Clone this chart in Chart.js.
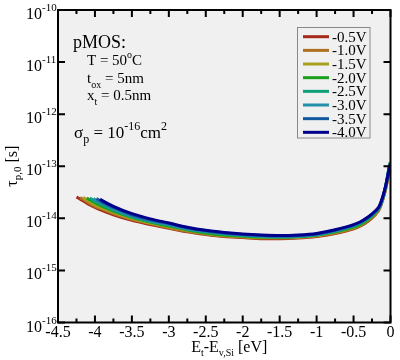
<!DOCTYPE html>
<html><head><meta charset="utf-8">
<script src="https://cdn.jsdelivr.net/npm/chart.js@4/dist/chart.umd.min.js"></script>
<style>html,body{margin:0;padding:0;background:#fff}#wrap{width:400px;height:360px;position:relative}canvas{display:block}</style>
</head><body><div id="wrap"><canvas id="c" width="400" height="360"></canvas></div>
<script>
// ---- tick labels / axes ----
const xTickValues = [-4.5, -4, -3.5, -3, -2.5, -2, -1.5, -1, -0.5, 0];
const xTickLabels = ['-4.5', '-4', '-3.5', '-3', '-2.5', '-2', '-1.5', '-1', '-0.5', '0'];
const xMinorTickValues = [-4.25, -3.75, -3.25, -2.75, -2.25, -1.75, -1.25, -0.75, -0.25];
const yTickValues = [1e-16, 1e-15, 1e-14, 1e-13, 1e-12, 1e-11, 1e-10];
const yTickExponents = ['-16', '-15', '-14', '-13', '-12', '-11', '-10'];

// ---- series ----
const seriesLabels = ['-0.5V', '-1.0V', '-1.5V', '-2.0V', '-2.5V', '-3.0V', '-3.5V', '-4.0V'];
const seriesColors = ['#a62a1a', '#b07222', '#a9a11e', '#1aa01a', '#10a07a', '#2390aa', '#1258a0', '#00008c'];

// shared energy grid (eV) after each curve's starting segment
const energyGrid = [-3.9, -3.75, -3.5, -3.25, -3, -2.75, -2.5, -2.25, -2, -1.75, -1.5, -1.25, -1, -0.75, -0.5, -0.4, -0.3, -0.2, -0.15, -0.1, -0.06, -0.03, -0.01, 0];

const leadE_05 = [-4.25, -4.2, -4.1, -4.0];
const leadTau_05 = [2.57e-14, 2.34e-14, 1.91e-14, 1.62e-14];
const tau_05 = [1.41e-14, 1.17e-14, 9.12e-15, 7.59e-15, 6.46e-15, 5.50e-15, 4.90e-15, 4.47e-15, 4.27e-15, 4.07e-15, 4.07e-15, 4.17e-15, 4.47e-15, 5.13e-15, 6.31e-15, 7.24e-15, 8.91e-15, 1.20e-14, 1.51e-14, 2.40e-14, 3.98e-14, 6.61e-14, 9.33e-14, 1.10e-13];

const leadE_10 = [-4.2, -4.1, -4.0];
const leadTau_10 = [2.51e-14, 2.04e-14, 1.70e-14];
const tau_10 = [1.51e-14, 1.23e-14, 9.55e-15, 7.94e-15, 6.61e-15, 5.62e-15, 5.01e-15, 4.57e-15, 4.37e-15, 4.17e-15, 4.17e-15, 4.27e-15, 4.57e-15, 5.25e-15, 6.46e-15, 7.41e-15, 9.12e-15, 1.23e-14, 1.55e-14, 2.45e-14, 4.07e-14, 6.76e-14, 9.55e-14, 1.10e-13];

const leadE_15 = [-4.16, -4.1, -4.0];
const leadTau_15 = [2.51e-14, 2.24e-14, 1.82e-14];
const tau_15 = [1.58e-14, 1.32e-14, 1.00e-14, 8.13e-15, 6.92e-15, 5.89e-15, 5.13e-15, 4.68e-15, 4.47e-15, 4.27e-15, 4.27e-15, 4.37e-15, 4.68e-15, 5.37e-15, 6.61e-15, 7.59e-15, 9.33e-15, 1.26e-14, 1.58e-14, 2.51e-14, 4.17e-14, 6.92e-14, 9.77e-14, 1.10e-13];

const leadE_20 = [-4.11, -4.0];
const leadTau_20 = [2.45e-14, 2.00e-14];
const tau_20 = [1.70e-14, 1.38e-14, 1.05e-14, 8.51e-15, 7.08e-15, 6.03e-15, 5.25e-15, 4.79e-15, 4.57e-15, 4.37e-15, 4.37e-15, 4.47e-15, 4.79e-15, 5.50e-15, 6.76e-15, 7.76e-15, 9.55e-15, 1.29e-14, 1.62e-14, 2.57e-14, 4.37e-14, 7.41e-14, 1.05e-13, 1.20e-13];

const leadE_25 = [-4.07, -4.0];
const leadTau_25 = [2.45e-14, 2.14e-14];
const tau_25 = [1.82e-14, 1.45e-14, 1.07e-14, 8.71e-15, 7.41e-15, 6.17e-15, 5.50e-15, 5.01e-15, 4.68e-15, 4.47e-15, 4.37e-15, 4.47e-15, 4.79e-15, 5.62e-15, 7.08e-15, 8.13e-15, 1.00e-14, 1.32e-14, 1.62e-14, 2.57e-14, 4.57e-14, 7.94e-14, 1.12e-13, 1.20e-13];

const leadE_30 = [-4.02, -4.0];
const leadTau_30 = [2.40e-14, 2.29e-14];
const tau_30 = [1.95e-14, 1.51e-14, 1.12e-14, 9.12e-15, 7.59e-15, 6.31e-15, 5.62e-15, 5.13e-15, 4.79e-15, 4.57e-15, 4.47e-15, 4.57e-15, 4.90e-15, 5.75e-15, 7.24e-15, 8.32e-15, 1.02e-14, 1.35e-14, 1.66e-14, 2.63e-14, 4.47e-14, 7.59e-14, 1.07e-13, 1.10e-13];

const leadE_35 = [-3.98];
const leadTau_35 = [2.40e-14];
const tau_35 = [2.04e-14, 1.62e-14, 1.17e-14, 9.33e-15, 7.94e-15, 6.61e-15, 5.75e-15, 5.25e-15, 4.90e-15, 4.68e-15, 4.57e-15, 4.68e-15, 5.01e-15, 5.89e-15, 7.41e-15, 8.51e-15, 1.05e-14, 1.38e-14, 1.70e-14, 2.69e-14, 4.47e-14, 7.41e-14, 1.05e-13, 1.10e-13];

const leadE_40 = [-3.93];
const leadTau_40 = [2.34e-14];
const tau_40 = [2.19e-14, 1.70e-14, 1.23e-14, 9.77e-15, 8.13e-15, 6.76e-15, 5.89e-15, 5.37e-15, 5.01e-15, 4.79e-15, 4.68e-15, 4.79e-15, 5.13e-15, 6.03e-15, 7.59e-15, 8.71e-15, 1.07e-14, 1.41e-14, 1.74e-14, 2.75e-14, 4.57e-14, 7.41e-14, 1.02e-13, 1.10e-13];

const seriesLeadE = [leadE_05, leadE_10, leadE_15, leadE_20, leadE_25, leadE_30, leadE_35, leadE_40];
const seriesLeadTau = [leadTau_05, leadTau_10, leadTau_15, leadTau_20, leadTau_25, leadTau_30, leadTau_35, leadTau_40];
const seriesTau = [tau_05, tau_10, tau_15, tau_20, tau_25, tau_30, tau_35, tau_40];

function buildPoints(i) {
  const pts = seriesLeadE[i].map((e, j) => ({x: e, y: seriesLeadTau[i][j]}));
  energyGrid.forEach((e, j) => pts.push({x: e, y: seriesTau[i][j]}));
  return pts;
}

const datasets = seriesLabels.map((lab, i) => ({
  label: lab,
  data: buildPoints(i),
  borderColor: seriesColors[i],
  backgroundColor: seriesColors[i],
  borderWidth: 3,
  pointRadius: 0,
  fill: false,
  cubicInterpolationMode: 'monotone',
  order: seriesLabels.length - i
}));

const SERIF = '"Liberation Serif", "DejaVu Serif", serif';
function fnt(s) { return s + 'px ' + SERIF; }

// rich text: parts = [[text, size, dy]]
function richWidth(ctx, parts) {
  let w = 0;
  for (const p of parts) { ctx.font = fnt(p[1]); w += ctx.measureText(p[0]).width; }
  return w;
}
function drawRich(ctx, x, y, parts, align) {
  let w = richWidth(ctx, parts);
  let cx = x;
  if (align === 'center') cx = x - w / 2;
  else if (align === 'right') cx = x - w;
  ctx.textAlign = 'left';
  ctx.textBaseline = 'alphabetic';
  for (const p of parts) {
    ctx.font = fnt(p[1]);
    ctx.fillText(p[0], cx, y + (p[2] || 0));
    cx += ctx.measureText(p[0]).width;
  }
}

const decor = {
  id: 'decor',
  beforeDraw(chart) {
    const {ctx, chartArea: a} = chart;
    ctx.save();
    ctx.fillStyle = '#ffffff';
    ctx.fillRect(0, 0, chart.width, chart.height);
    ctx.fillStyle = '#f0f0f0';
    ctx.fillRect(a.left, a.top, a.right - a.left, a.bottom - a.top);
    ctx.restore();
  },
  afterDatasetsDraw(chart) {
    const {ctx, chartArea: a, scales} = chart;
    const xs = scales.x, ys = scales.y;
    ctx.save();
    ctx.strokeStyle = '#000';
    ctx.fillStyle = '#000';
    // ticks
    ctx.lineWidth = 2;
    ctx.beginPath();
    xTickValues.forEach(v => {
      const px = xs.getPixelForValue(v);
      ctx.moveTo(px, a.bottom); ctx.lineTo(px, a.bottom - 7);
      ctx.moveTo(px, a.top); ctx.lineTo(px, a.top + 7);
    });
    xMinorTickValues.forEach(v => {
      const px = xs.getPixelForValue(v);
      ctx.moveTo(px, a.bottom); ctx.lineTo(px, a.bottom - 4);
      ctx.moveTo(px, a.top); ctx.lineTo(px, a.top + 4);
    });
    yTickValues.forEach(v => {
      const py = ys.getPixelForValue(v);
      ctx.moveTo(a.left, py); ctx.lineTo(a.left + 7, py);
      ctx.moveTo(a.right, py); ctx.lineTo(a.right - 7, py);
    });
    ctx.stroke();
    // frame
    ctx.lineWidth = 2;
    ctx.strokeRect(a.left, a.top, a.right - a.left, a.bottom - a.top);

    // x tick labels
    ctx.font = fnt(16);
    ctx.textAlign = 'center';
    ctx.textBaseline = 'alphabetic';
    xTickValues.forEach((v, i) => {
      ctx.fillText(xTickLabels[i], xs.getPixelForValue(v), 337);
    });
    // y tick labels
    yTickValues.forEach((v, i) => {
      const py = ys.getPixelForValue(v);
      drawRich(ctx, 26, py + 9, [['10', 16, 0], [yTickExponents[i], 11, -8]], 'left');
    });
    // x title
    drawRich(ctx, (a.left + a.right) / 2 + 5, 352, [['E', 16, 0], ['t', 10, 4], ['-E', 16, 0], ['v,Si', 10, 4], [' [eV]', 16, 0]], 'center');
    // y title (rotated)
    ctx.save();
    ctx.translate(6, (a.top + a.bottom) / 2);
    ctx.rotate(-Math.PI / 2);
    drawRich(ctx, 0, 11, [['\u03C4', 16, 0], ['p,0', 11, 4], [' [s]', 16, 0]], 'center');
    ctx.restore();

    // annotations
    drawRich(ctx, 73, 48, [['pMOS:', 18, 0]], 'left');
    drawRich(ctx, 87, 65, [['T = 50', 15, 0], ['o', 10, -7], ['C', 15, 0]], 'left');
    drawRich(ctx, 87, 83, [['t', 15, 0], ['ox', 10, 5], [' = 5nm', 15, 0]], 'left');
    drawRich(ctx, 87, 100, [['x', 15, 0], ['t', 10, 5], [' = 0.5nm', 15, 0]], 'left');
    drawRich(ctx, 74, 138, [['\u03C3', 17, 0], ['p', 12, 5], [' = 10', 17, 0], ['-16', 12, -8], ['cm', 17, 0], ['2', 12, -8]], 'left');

    // legend
    ctx.fillStyle = '#f0f0f0';
    ctx.fillRect(297.5, 27.5, 72.5, 110.5);
    ctx.strokeStyle = '#888';
    ctx.lineWidth = 1;
    ctx.strokeRect(297.5, 27.5, 72.5, 110.5);
    seriesLabels.forEach((lab, i) => {
      const yy = 36.7 + i * 13.66;
      ctx.strokeStyle = seriesColors[i];
      ctx.lineWidth = 3;
      ctx.beginPath(); ctx.moveTo(303, yy); ctx.lineTo(329, yy); ctx.stroke();
      ctx.fillStyle = '#000';
      ctx.font = fnt(15);
      ctx.textAlign = 'left';
      ctx.fillText(lab, 332, yy + 5);
    });
    ctx.restore();
  }
};

new Chart(document.getElementById('c'), {
  type: 'line',
  data: {datasets},
  options: {
    responsive: false,
    animation: false,
    devicePixelRatio: 1,
    layout: {padding: {left: 58, right: 9.5, top: 10, bottom: 37.5}},
    plugins: {legend: {display: false}, tooltip: {enabled: false}},
    scales: {
      x: {type: 'linear', min: -4.5, max: 0, display: false},
      y: {type: 'logarithmic', min: 1e-16, max: 1e-10, display: false}
    }
  },
  plugins: [decor]
});
</script>
</body></html>
